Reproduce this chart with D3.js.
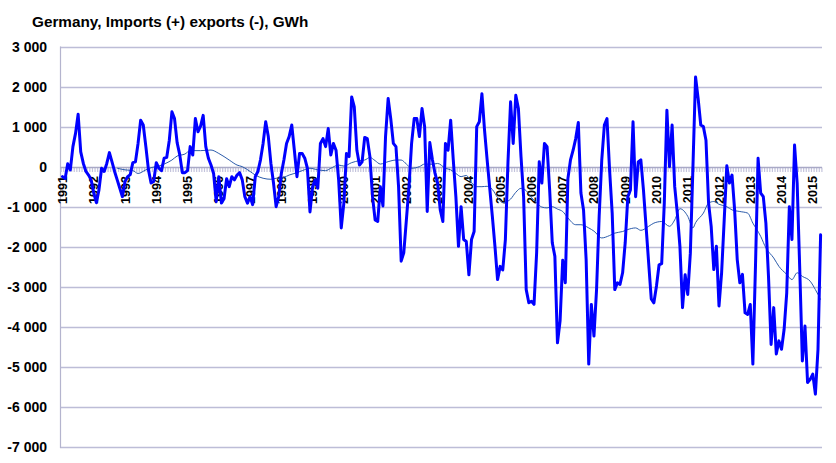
<!DOCTYPE html>
<html><head><meta charset="utf-8">
<script src="https://cdn.jsdelivr.net/npm/d3@7/dist/d3.min.js"></script>
<style>
html,body{margin:0;padding:0;background:#fff;}
svg{display:block;font-family:"Liberation Sans",Arial,sans-serif;}
</style></head>
<body>
<svg id="chart" width="836" height="463"></svg>
<script>
const title = "Germany, Imports (+) exports (-), GWh";
const yearLabels = ["1991","1992","1993","1994","1995","1996","1997","1998","1999","2000","2001","2002","2003","2004","2005","2006","2007","2008","2009","2010","2011","2012","2013","2014","2015"];
const yTicks = [3000,2000,1000,0,-1000,-2000,-3000,-4000,-5000,-6000,-7000];

// Monthly net imports (GWh), Jan 1991 .. Apr 2015
const monthly = [
  -250,-300,70,-80,500,830,1310,370,80,-120,-210,-330,          // 1991
  -660,-900,-580,-40,-120,80,350,120,-120,-330,-540,-750,       // 1992
  -370,-250,-200,100,120,580,1160,1040,500,-80,-410,-370,       // 1993
  100,-40,-100,210,230,660,1370,1200,600,300,-150,-150,         // 1994
  -100,500,290,1200,870,1010,1280,500,210,40,-170,-870,         // 1995
  -250,-910,-800,-300,-500,-250,-330,-210,-150,-330,-750,-910,  // 1996
  -750,-950,-250,-120,170,580,1120,750,80,-410,-1000,-750,      // 1997
  -170,170,580,750,1040,410,-250,330,330,210,-40,-1130,         // 1998
  -500,-330,-540,580,700,500,950,290,580,410,-330,-1530,        // 1999
  -910,330,250,1740,1490,410,40,120,730,700,250,-750,           // 2000
  -1330,-1370,-500,-980,750,1700,1200,580,500,-500,-2360,-2150, // 2001
  -1330,-500,580,1200,1200,750,1450,1000,-1120,600,170,-170,    // 2002
  -410,-1080,-1370,580,410,1160,170,-750,-1990,-1000,-1820,-1870, // 2003
  -2700,-1820,-1620,1000,1120,1820,910,170,-540,-1240,-1990,-2820, // 2004
  -2490,-2580,-1820,120,1620,580,1780,1450,250,-750,-3070,-3400, // 2005
  -3360,-3440,-2150,120,-410,580,500,-580,-1900,-2240,-4400,-3850, // 2006
  -2340,-2900,-300,170,410,700,1100,-660,-1080,-2320,-4930,-3440, // 2007
  -4230,-3070,-1240,170,1040,1200,-80,-1160,-3070,-2900,-2940,-2650, // 2008
  -1900,-750,-580,1120,-750,120,170,-580,-1490,-2400,-3300,-3400, // 2009
  -2980,-2450,-2420,-910,1410,0,1040,-500,-1160,-1990,-3520,-2700, // 2010
  -3190,-2160,0,2240,1700,1040,1000,660,-910,-1490,-2570,-1990, // 2011
  -3480,-2650,-1330,20,-410,-210,-1080,-2320,-2900,-2690,-3650,-3690, // 2012
  -3440,-4930,-2490,210,-660,-750,-1410,-2740,-4440,-3520,-4680,-4350, // 2013
  -4560,-4060,-3150,-1000,-1820,540,-410,-2570,-4850,-3980,-5390,-5310, // 2014
  -5180,-5680,-4560,-1700                                        // 2015
];

// Thin smoothed line, read at selected months (month index from Jan 1991)
const maIdx = [21,24,27,29,32,34,37,39,42,44,47,49,53,57,60,64,67,69,72,74,77,80,82,85,87,90,92,95,98,101,103,106,108,111,114,116,118,120,122,125,128,130,132,134,137,139,142,144,147,149,151,153,155,157,159,161,163,165,167,169,171,172,174,176,178,180,182,184,186,188,190,192,194,197,199,202,204,207,210,212,215,217,220,222,225,227,230,233,235,237,240,242,243,246,248,250,252,255,257,260,263,265,268,270,273,275,278,280,282,284,287,289,291];
const maVal = [-40,-80,-100,-170,-80,-25,15,65,165,265,315,400,400,415,330,165,40,0,-120,-210,-290,-315,-290,-265,-210,-150,-100,-40,-80,-100,-40,40,15,100,150,165,230,150,65,125,165,165,65,-40,0,65,60,80,-40,-80,-170,-250,-220,-400,-500,-500,-490,-570,-770,-900,-860,-810,-640,-540,-600,-770,-900,-1010,-1030,-1000,-1060,-1120,-1280,-1450,-1450,-1530,-1610,-1780,-1720,-1660,-1620,-1570,-1530,-1590,-1490,-1410,-1370,-1490,-1330,-1050,-1240,-1530,-1400,-1160,-910,-870,-940,-1000,-1080,-1120,-1160,-1410,-1740,-2030,-2280,-2490,-2690,-2820,-2650,-2740,-2860,-3070,-3320];

const svg = d3.select("#chart");
const plotLeft = 60, plotRight = 822;

const x = d3.scalePoint().domain(d3.range(monthly.length)).range([62.5, 820.6]);
const step = x.step();
const y = d3.scaleLinear().domain([-7000, 3000]).range([447, 46.5]);

const loc = d3.formatLocale({decimal:",", thousands:" ", grouping:[3], currency:["",""], minus:"-"});
const fmt = loc.format(",d");

const gridColor = "#BDBDD7";

// gridlines
svg.append("g").selectAll("line").data(yTicks.filter(d => d !== 0)).join("line")
  .attr("x1", plotLeft).attr("x2", plotRight)
  .attr("y1", d => Math.round(y(d)) + 0.5).attr("y2", d => Math.round(y(d)) + 0.5)
  .attr("stroke", gridColor).attr("stroke-width", 1.3);

// y axis line
svg.append("line").attr("x1", plotLeft + 0.5).attr("x2", plotLeft + 0.5)
  .attr("y1", y(3000)).attr("y2", y(-7000) + 1)
  .attr("stroke", "#B4B4CE").attr("stroke-width", 1.2);

// y labels
svg.append("g").selectAll("text").data(yTicks).join("text")
  .attr("x", 47).attr("y", d => y(d)).attr("dy", "0.36em")
  .attr("text-anchor", "end").attr("font-size", 14).attr("font-weight", "bold")
  .attr("fill", "#000").text(d => fmt(d));

// zero axis tick marks (category boundaries)
const y0 = Math.round(y(0)) + 0.5;
svg.append("g").selectAll("line").data(d3.range(monthly.length + 1)).join("line")
  .attr("x1", i => (i < monthly.length ? x(i) : x(monthly.length - 1) + step) - step / 2)
  .attr("x2", i => (i < monthly.length ? x(i) : x(monthly.length - 1) + step) - step / 2)
  .attr("y1", y0).attr("y2", y0 + 4.5)
  .attr("stroke", "#C4C4DC").attr("stroke-width", 1.2);

// zero axis line
svg.append("line").attr("x1", plotLeft).attr("x2", plotRight)
  .attr("y1", y0).attr("y2", y0)
  .attr("stroke", "#A9A9C6").attr("stroke-width", 1.6);

// year labels
svg.append("g").selectAll("text").data(yearLabels).join("text")
  .attr("transform", (d, k) => `translate(${x(k * 12)},176) rotate(-90)`)
  .attr("text-anchor", "end").attr("dy", "0.36em")
  .attr("font-size", 12.6).attr("font-weight", "bold").attr("fill", "#000")
  .text(d => d);

// thin smoothed line
svg.append("path")
  .datum(maIdx.map((m, k) => [m, maVal[k]]))
  .attr("fill", "none").attr("stroke", "#2B5BAA").attr("stroke-width", 1)
  .attr("stroke-linejoin", "round")
  .attr("d", d3.line().x(d => x(d[0])).y(d => y(d[1])).curve(d3.curveMonotoneX));

// monthly line
svg.append("path")
  .datum(monthly)
  .attr("fill", "none").attr("stroke", "#0000FF").attr("stroke-width", 3)
  .attr("stroke-linejoin", "round").attr("stroke-linecap", "round")
  .attr("d", d3.line().x((d, i) => x(i)).y(d => y(d)));

// title
svg.append("text").attr("x", 32).attr("y", 27)
  .attr("font-size", 15.3).attr("font-weight", "bold").attr("fill", "#000")
  .text(title);
</script>
</body></html>
